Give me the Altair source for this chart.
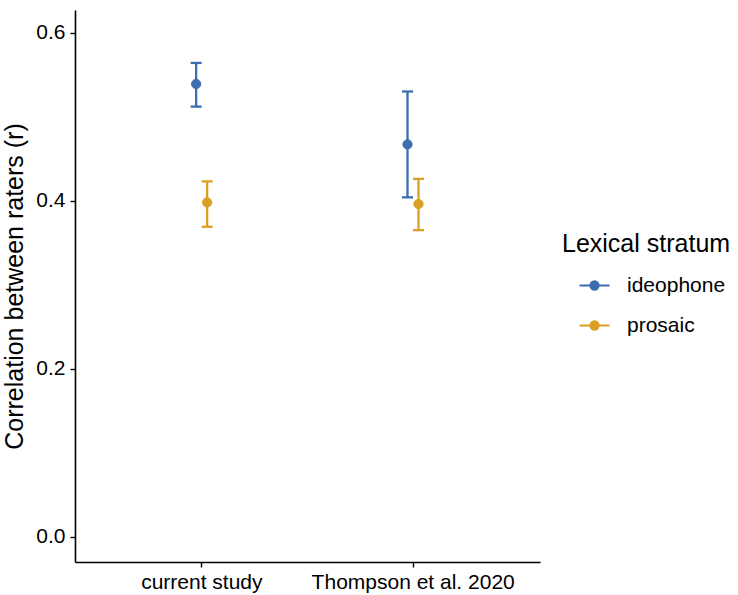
import altair as alt
import pandas as pd

studies = ["current study", "current study", "Thompson et al. 2020", "Thompson et al. 2020"]
strata = ["ideophone", "prosaic", "ideophone", "prosaic"]
r_values = [0.539, 0.398, 0.467, 0.396]
r_low = [0.512, 0.369, 0.404, 0.365]
r_high = [0.564, 0.423, 0.530, 0.426]

df = pd.DataFrame({"study": studies, "stratum": strata, "r": r_values, "lo": r_low, "hi": r_high})

FONT = "Liberation Sans"
colors = ["#3C6DB0", "#D9A024"]
cscale = alt.Scale(domain=["ideophone", "prosaic"], range=colors)

legend_path = "M-1,0L1,0M-0.27,0A0.27,0.27,0,1,1,0.27,0A0.27,0.27,0,1,1,-0.27,0Z"

x_enc = alt.X("study:N", title=None, sort=["current study", "Thompson et al. 2020"],
              scale=alt.Scale(paddingInner=0, paddingOuter=0.1),
              axis=alt.Axis(labelAngle=0, labelFontSize=21, labelColor="black", labelFont=FONT,
                            labelLimit=400, tickColor="black", tickSize=5, tickWidth=1.4,
                            domainColor="black", domainWidth=1.6, labelPadding=4, grid=False))
xo_enc = alt.XOffset("stratum:N", scale=alt.Scale(type="point", range=[100, 111], padding=0))
y_scale = alt.Scale(domain=[-0.03, 0.627], nice=False, zero=False)
y_axis = alt.Axis(values=[0.0, 0.2, 0.4, 0.6], format=".1f", labelFontSize=21, labelColor="black",
                  labelFont=FONT, tickColor="black", tickSize=5, tickWidth=1.4,
                  domainColor="black", domainWidth=1.6, labelPadding=5, grid=False,
                  title="Correlation between raters (r)", titleFont=FONT, titleFontSize=25,
                  titleFontWeight="normal", titleColor="black", titlePadding=8)

leg = alt.Legend(title="Lexical stratum", orient="none", legendX=487, legendY=222,
                 titleFont=FONT, titleFontSize=25, titleFontWeight="normal", titleColor="black",
                 labelFont=FONT, labelFontSize=21, labelColor="black",
                 symbolType=legend_path, symbolSize=900, symbolStrokeWidth=2.2,
                 symbolOffset=16, rowPadding=13, labelOffset=16, titlePadding=12)

base = alt.Chart(df).encode(x=x_enc, xOffset=xo_enc)

rules = base.mark_rule(strokeWidth=2.3, opacity=1).encode(
    y=alt.Y("lo:Q", scale=y_scale, axis=y_axis),
    y2="hi:Q",
    color=alt.Color("stratum:N", scale=cscale, legend=leg),
)
cap_lo = base.mark_tick(size=11, thickness=2.3, opacity=1).encode(
    y=alt.Y("lo:Q", scale=y_scale),
    color=alt.Color("stratum:N", scale=cscale, legend=leg),
)
cap_hi = base.mark_tick(size=11, thickness=2.3, opacity=1).encode(
    y=alt.Y("hi:Q", scale=y_scale),
    color=alt.Color("stratum:N", scale=cscale, legend=leg),
)
points = base.mark_point(filled=True, size=85, opacity=1, strokeWidth=1).encode(
    y=alt.Y("r:Q", scale=y_scale),
    color=alt.Color("stratum:N", scale=cscale, legend=leg),
    stroke=alt.Stroke("stratum:N", scale=cscale, legend=leg),
)

chart = alt.layer(rules, cap_lo, cap_hi, points).properties(
    width=465, height=552,
    autosize=alt.AutoSizeParams(type="none"),
    padding={"left": 75, "top": 10, "right": 198, "bottom": 33},
).configure(font=FONT).configure_view(strokeWidth=0)

chart.save("out.html", embed_options={"renderer": "svg", "actions": False})
